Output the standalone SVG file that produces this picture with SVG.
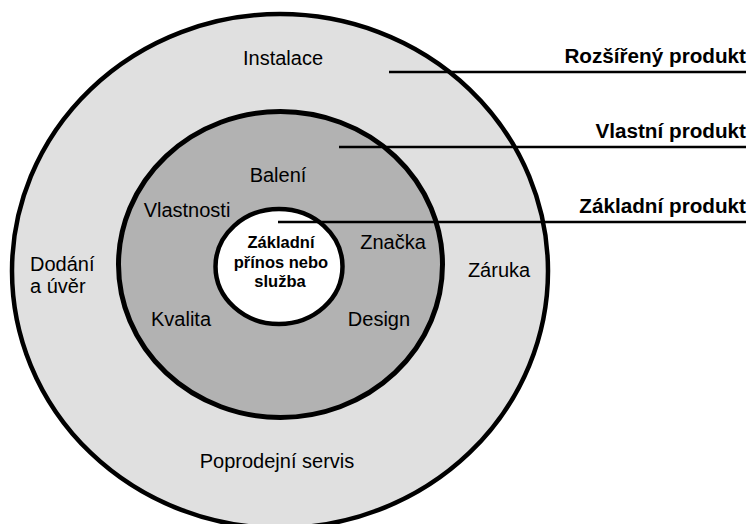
<svg xmlns="http://www.w3.org/2000/svg" width="749" height="524" viewBox="0 0 749 524">
<style>
.ring{stroke:#000;stroke-width:4.5}
.t{font-family:"Liberation Sans",Arial,sans-serif;font-size:20px;fill:#000}
.b{font-family:"Liberation Sans",Arial,sans-serif;font-weight:bold;fill:#000}
.lbl{font-size:20.7px;text-anchor:end}
.core{font-size:16.5px;text-anchor:middle}
.c{text-anchor:middle}
.lead{stroke:#000;stroke-width:2.5;fill:none}
</style>
<rect width="749" height="524" fill="#fff"/>
<g id="outer">
<ellipse class="ring" cx="280" cy="271" rx="268" ry="257" fill="#e0e0e0"/>
<text class="t c" x="283" y="65">Instalace</text>
<text class="t" x="30" y="271">Dodání</text>
<text class="t" x="30" y="293">a úvěr</text>
<text class="t c" x="499" y="277">Záruka</text>
<text class="t c" x="277" y="468">Poprodejní servis</text>
</g>
<g id="middle">
<ellipse class="ring" cx="280.5" cy="264.5" rx="162" ry="153" fill="#b2b2b2" style="stroke-width:5"/>
<text class="t c" x="278" y="182">Balení</text>
<text class="t c" x="187" y="217">Vlastnosti</text>
<text class="t c" x="393" y="249">Značka</text>
<text class="t c" x="181" y="326">Kvalita</text>
<text class="t c" x="379" y="326">Design</text>
</g>
<g id="inner">
<ellipse class="ring" cx="279" cy="266.5" rx="63.5" ry="57.5" fill="#fff"/>
<text class="b core" x="281" y="248">Základní</text>
<text class="b core" x="281" y="268">přínos nebo</text>
<text class="b core" x="280" y="287">služba</text>
</g>
<g id="connectors">
<line class="lead" x1="389" y1="72" x2="746" y2="72"/>
<line class="lead" x1="339" y1="147" x2="746" y2="147"/>
<line class="lead" x1="278" y1="222" x2="746" y2="222"/>
</g>
<g id="labels">
<text class="b lbl" x="746" y="63">Rozšířený produkt</text>
<text class="b lbl" x="746" y="138">Vlastní produkt</text>
<text class="b lbl" x="746" y="213">Základní produkt</text>
</g>
</svg>
